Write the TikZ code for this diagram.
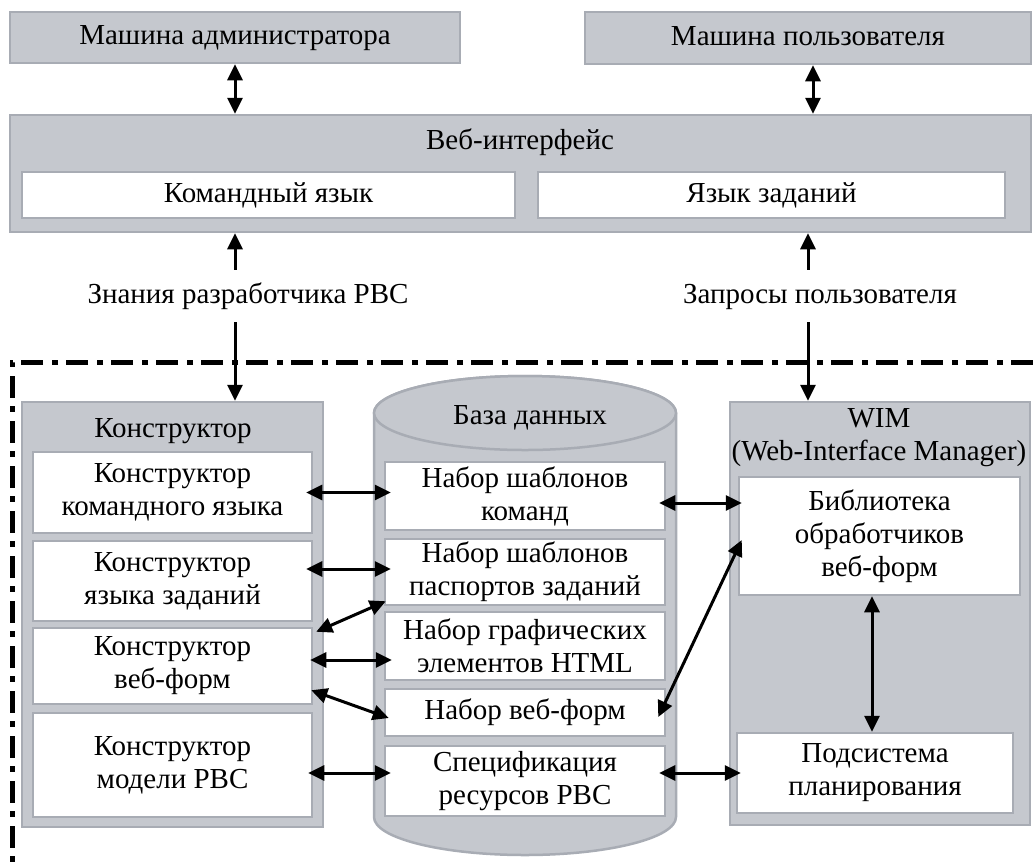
\documentclass[tikz,border=0pt]{standalone}
\usepackage{fontspec}
\setmainfont{Liberation Serif}
\usetikzlibrary{arrows.meta,calc}
\definecolor{boxgray}{HTML}{C5C8CE}
\definecolor{rimgray}{HTML}{A8ACB4}
\tikzset{
  panel/.style={draw=rimgray,fill=boxgray,line width=2.5pt,inner sep=0pt},
  slot/.style={draw=rimgray,fill=white,line width=2.5pt,inner sep=0pt,align=center},
  oneline/.style={text height=20pt,text depth=6pt},
  link/.style={line width=3pt,{Triangle[length=16pt,width=15pt]}-{Triangle[length=16pt,width=15pt]}},
  feed/.style={line width=3pt,-{Triangle[length=16pt,width=15pt]}},
}

\begin{document}
\begin{tikzpicture}[x=1pt,y=-1pt,font=\fontsize{29}{33}\selectfont]

\useasboundingbox (0,0) rectangle (1033,863);

\node[panel,oneline,minimum width=450pt,minimum height=51pt] (admin) at (235,37.5) {Машина администратора};
\node[panel,oneline,minimum width=446pt,minimum height=52pt] (user) at (808,38) {Машина пользователя};

\node[panel,minimum width=1021pt,minimum height=117pt] (web) at (520.5,173.5) {};
\node[oneline] (webname) at (520,142) {Веб-интерфейс};
\node[slot,oneline,minimum width=493pt,minimum height=46pt] (cmdlang) at (268.5,195) {Командный язык};
\node[slot,oneline,minimum width=467pt,minimum height=46pt] (tasklang) at (771.5,195) {Язык заданий};

\node[oneline,inner sep=0pt,minimum height=52pt] (know) at (248,296) {Знания разработчика РВС};
\node[oneline,inner sep=0pt,minimum height=52pt] (req) at (820,296) {Запросы пользователя};

\draw[line width=5pt,dash pattern=on 22pt off 8pt on 6pt off 9pt] (1033,362) -- (12,362) -- (12,863);

\node[panel,minimum width=301pt,minimum height=425pt] (con) at (172.5,614.5) {};
\node[oneline] (conname) at (173,430) {Конструктор};
\node[slot,minimum width=279pt,minimum height=81pt] (c1) at (172.5,492.5) {Конструктор\\командного языка};
\node[slot,minimum width=279pt,minimum height=80pt] (c2) at (172.5,581) {Конструктор\\языка заданий};
\node[slot,minimum width=279pt,minimum height=76pt] (c3) at (172.5,666) {Конструктор\\веб-форм};
\node[slot,minimum width=279pt,minimum height=104pt] (c4) at (172.5,765) {Конструктор\\модели РВС};

\draw[draw=rimgray,fill=boxgray,line width=2.5pt] (374,413) -- (374,817)
  arc[start angle=180,end angle=0,x radius=151,y radius=38] -- (676,413)
  arc[start angle=0,end angle=-180,x radius=151,y radius=37] -- cycle;
\draw[draw=rimgray,fill=boxgray,line width=2.5pt] (525,413) ellipse [x radius=151,y radius=37];
\node[oneline] (dbname) at (530,417) {База данных};
\node[slot,minimum width=280pt,minimum height=68pt] (d1) at (525,496) {Набор шаблонов\\команд};
\node[slot,minimum width=280pt,minimum height=66pt] (d2) at (525,572) {Набор шаблонов\\паспортов заданий};
\node[slot,minimum width=280pt,minimum height=68pt] (d3) at (525,646) {Набор графических\\элементов HTML};
\node[slot,oneline,minimum width=280pt,minimum height=47pt] (d4) at (525,712.5) {Набор веб-форм};
\node[slot,minimum width=280pt,minimum height=70pt] (d5) at (525,781) {Спецификация\\ресурсов РВС};

\node[panel,minimum width=300pt,minimum height=423pt] (wim) at (880,613.5) {};
\node[align=center] (wimname) at (879,438) {WIM\\(Web-Interface Manager)};
\node[slot,minimum width=281pt,minimum height=118pt] (w1) at (879.5,536) {Библиотека\\обработчиков\\веб-форм};
\node[slot,minimum width=276pt,minimum height=80pt] (w2) at (875,773) {Подсистема\\планирования};

\path[link]
  (admin.south) edge (admin.south |- web.north)
  ($(user.south)+(5,0)$) edge ($(user.south |- web.north)+(5,0)$)
  ($(c1.east)+(-7,0)$) edge ($(c1.east -| d1.west)+(7,0)$)
  ($(d2.west -| c2.east)+(-7,-3)$) edge ($(d2.west)+(7,-3)$)
  ($(c3.north east)+(3,5)$) edge ($(d2.south west)+(2,-5)$)
  ($(c3.east)+(-3,-6)$) edge ($(c3.east -| d3.west)+(8,-6)$)
  ($(c3.south east)+(-2,-15)$) edge ($(d4.west)+(5,5.5)$)
  ($(c4.east)+(-5,8)$) edge ($(c4.east -| d5.west)+(7,8)$)
  ($(d1.east)+(-7,7)$) edge ($(d1.east -| w1.west)+(4,7)$)
  ($(d4.east)+(-8,4.5)$) edge ($(w1.west)+(4,4)$)
  ($(w2.west -| d5.east)+(-7,0)$) edge ($(w2.west)+(5,0)$)
  ($(w1.south)+(-7.5,0)$) edge ($(w1.south |- w2.north)+(-7.5,0)$);

\path[feed]
  (know.north -| admin.south) edge (admin.south |- web.south)
  (know.south -| admin.south) edge (admin.south |- con.north)
  (req.north -| user.south) edge (user.south |- web.south)
  (req.south -| user.south) edge (user.south |- wim.north);

\end{tikzpicture}
\end{document}
